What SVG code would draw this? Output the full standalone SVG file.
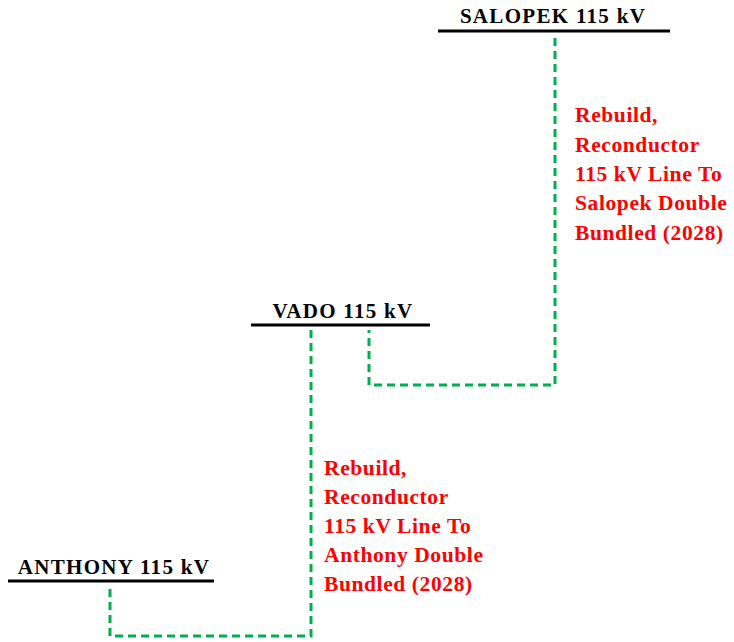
<svg xmlns="http://www.w3.org/2000/svg" width="734" height="642" viewBox="0 0 734 642">
<style>
.bus{stroke:#000;stroke-width:3;fill:none}
.lbl{font-family:"Liberation Serif","Times New Roman",serif;font-weight:bold;font-size:21px;letter-spacing:1.3px;fill:#000}
.note{font-family:"Liberation Serif","Times New Roman",serif;font-weight:bold;font-size:21.5px;letter-spacing:0.6px;fill:#FF0000}
.line{stroke:#00B050;stroke-width:3;fill:none;stroke-dasharray:8 5}
</style>
<rect width="734" height="642" fill="#fff"/>
<g id="connectors">
<polyline class="line" points="555,38 555,385 369,385 369,330"/>
<polyline class="line" points="311,330 311,636 110,636 110,588"/>
</g>
<g id="salopek">
<line class="bus" x1="438" y1="31" x2="670" y2="31"/>
<text class="lbl" x="553" y="23" text-anchor="middle">SALOPEK 115 kV</text>
</g>
<g id="vado">
<line class="bus" x1="251" y1="325" x2="430" y2="325"/>
<text class="lbl" x="343" y="318" text-anchor="middle">VADO 115 kV</text>
</g>
<g id="anthony">
<line class="bus" x1="8" y1="581" x2="214" y2="581"/>
<text class="lbl" x="114" y="574" text-anchor="middle">ANTHONY 115 kV</text>
</g>
<g id="note-salopek">
<text class="note" x="575" y="122">Rebuild,</text>
<text class="note" x="575" y="152">Reconductor</text>
<text class="note" x="575" y="181">115 kV Line To</text>
<text class="note" x="575" y="210">Salopek Double</text>
<text class="note" x="575" y="240">Bundled (2028)</text>
</g>
<g id="note-anthony">
<text class="note" x="324" y="475">Rebuild,</text>
<text class="note" x="324" y="504">Reconductor</text>
<text class="note" x="324" y="533">115 kV Line To</text>
<text class="note" x="324" y="562">Anthony Double</text>
<text class="note" x="324" y="591">Bundled (2028)</text>
</g>
</svg>
